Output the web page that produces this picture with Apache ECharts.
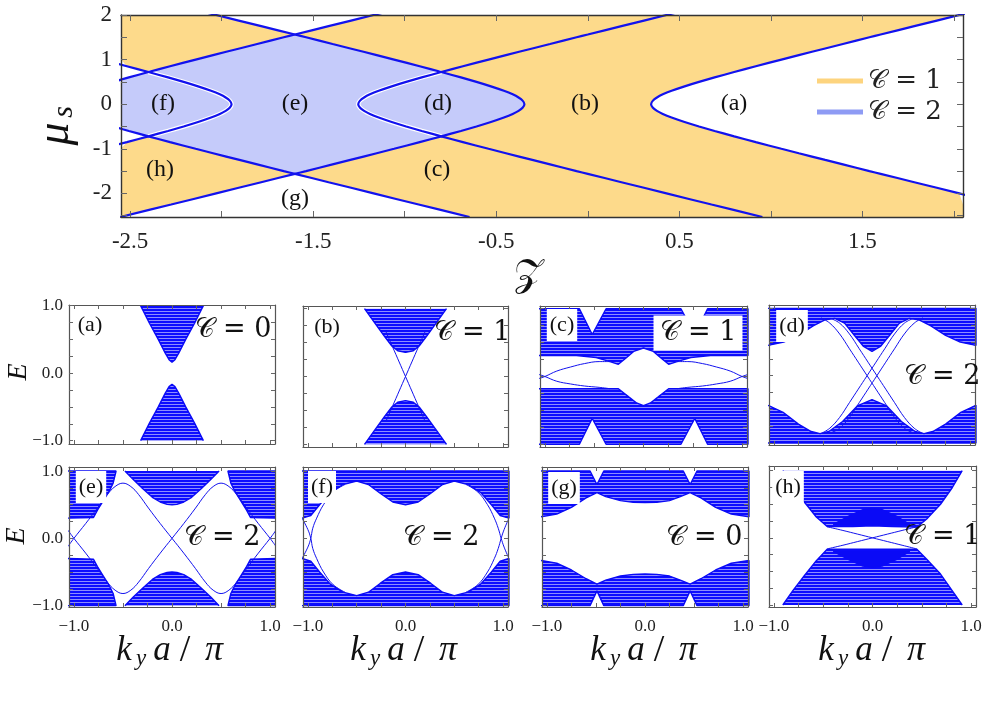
<!DOCTYPE html>
<html><head><meta charset="utf-8">
<script src="https://cdn.jsdelivr.net/npm/echarts@6/dist/echarts.min.js"></script>
<style>html,body{margin:0;padding:0;background:#fff}#c{width:996px;height:705px}</style>
</head><body><div id="c"></div>
<script>
// ===================== TOP PANEL DATA (phase diagram) =====================
const muPos = [0, 0.08, 0.15, 0.22, 0.3, 0.4, 0.5, 0.6, 0.721, 0.85, 1.0, 1.1, 1.25, 1.35, 1.5, 1.562, 1.75, 2.0, 2.25, 2.53];
const halfWidthPos = [0.346, 0.356, 0.378, 0.410, 0.458, 0.529, 0.608, 0.693, 0.800, 0.918, 1.058, 1.153, 1.297, 1.394, 1.539, 1.600, 1.784, 2.030, 2.276, 2.554];
const boundaryCenters = [0, 0, -1.6, -1.6, -3.2];
const boundarySides = [1, -1, 1, -1, 1];
const zRange = [-2.55, 2.05];
const muRange = [-2.53, 2.0];
const zTickValues = [-2.5, -2, -1.5, -1, -0.5, 0, 0.5, 1, 1.5, 2];
const zLabelValues = [-2.5, -1.5, -0.5, 0.5, 1.5];
const muTickValues = [-2.5, -2, -1.5, -1, -0.5, 0, 0.5, 1, 1.5, 2];
const muLabelValues = [-2, -1, 0, 1, 2];
const phaseNames = ['𝒞 = 1', '𝒞 = 2'];

// ===================== BOTTOM PANELS DATA (band structures) =====================
const kTickValues = [-1, -0.75, -0.5, -0.25, 0, 0.25, 0.5, 0.75, 1];
const kLabelValues = [-1, 0, 1];
const eTickValues = [-1, -0.75, -0.5, -0.25, 0, 0.25, 0.5, 0.75, 1];
const eLabelValues = [-1, 0, 1];

// (a)
const bandA_up = [[-0.32,1.0],[-0.23,0.74],[-0.14,0.5],[-0.07,0.3],[-0.03,0.2],[0,0.16],[0.03,0.2],[0.07,0.3],[0.14,0.5],[0.23,0.74],[0.32,1.0]];
const bandA_dn = [[-0.32,-1.0],[-0.23,-0.74],[-0.14,-0.5],[-0.07,-0.3],[-0.03,-0.2],[0,-0.165],[0.03,-0.2],[0.07,-0.3],[0.14,-0.5],[0.23,-0.74],[0.32,-1.0]];
// (b)
const bandB_up = [[-0.42,1.0],[-0.31,0.78],[-0.21,0.58],[-0.14,0.45],[-0.08,0.38],[0,0.355],[0.08,0.38],[0.14,0.45],[0.21,0.58],[0.31,0.78],[0.42,1.0]];
const bandB_dn = [[-0.42,-1.0],[-0.31,-0.78],[-0.21,-0.58],[-0.14,-0.45],[-0.08,-0.38],[0,-0.355],[0.08,-0.38],[0.14,-0.45],[0.21,-0.58],[0.31,-0.78],[0.42,-1.0]];
const edgeB1 = [[-0.2,0.66],[0,0],[0.2,-0.66]];
const edgeB2 = [[0.2,0.66],[0,0],[-0.2,-0.66]];
// (c)
const bandC_up = [[-1.06,0.31],[-0.68,0.31],[-0.48,0.28],[-0.34,0.22],[-0.255,0.18],[-0.18,0.27],[-0.1,0.37],[0,0.42],[0.1,0.37],[0.18,0.27],[0.255,0.18],[0.34,0.22],[0.48,0.28],[0.68,0.31],[1.06,0.31],[1.06,1.0],[0.65,1.0],[0.52,0.62],[0.38,1.0],[-0.38,1.0],[-0.52,0.62],[-0.65,1.0],[-1.06,1.0]];
const bandC_dn = [[-1.06,-0.18],[-0.5,-0.18],[-0.255,-0.18],[-0.15,-0.3],[-0.07,-0.39],[0,-0.43],[0.07,-0.39],[0.15,-0.3],[0.255,-0.18],[0.5,-0.18],[1.06,-0.18],[1.06,-1.0],[0.65,-1.0],[0.52,-0.62],[0.38,-1.0],[-0.38,-1.0],[-0.52,-0.62],[-0.65,-1.0],[-1.06,-1.0]];
const edgeC1 = [[-1.06,-0.03],[-1.0,0],[-0.88,0.08],[-0.74,0.14],[-0.6,0.19],[-0.45,0.22],[-0.34,0.22]];
const edgeC2 = [[-1.06,0.03],[-1.0,0],[-0.88,-0.07],[-0.74,-0.11],[-0.6,-0.14],[-0.45,-0.16],[-0.34,-0.18]];
const edgeC3 = [[1.06,-0.03],[1.0,0],[0.88,0.08],[0.74,0.14],[0.6,0.19],[0.45,0.22],[0.34,0.22]];
const edgeC4 = [[1.06,0.03],[1.0,0],[0.88,-0.07],[0.74,-0.11],[0.6,-0.14],[0.45,-0.16],[0.34,-0.18]];
// (d)
const bandD_up = [[-1.06,0.45],[-0.9,0.5],[-0.75,0.6],[-0.6,0.74],[-0.48,0.83],[-0.38,0.85],[-0.28,0.78],[-0.18,0.6],[-0.09,0.44],[0,0.36],[0.09,0.44],[0.18,0.6],[0.28,0.78],[0.38,0.85],[0.48,0.83],[0.6,0.74],[0.75,0.6],[0.9,0.5],[1.06,0.45],[1.06,1.0],[-1.06,1.0]];
const bandD_dn = [[-1.06,-0.44],[-0.9,-0.55],[-0.75,-0.72],[-0.62,-0.83],[-0.53,-0.86],[-0.44,-0.83],[-0.3,-0.68],[-0.15,-0.45],[0,-0.355],[0.15,-0.45],[0.3,-0.68],[0.44,-0.83],[0.53,-0.86],[0.62,-0.83],[0.75,-0.72],[0.9,-0.55],[1.06,-0.44],[1.06,-1.0],[-1.06,-1.0]];
const edgeD1 = [[-0.42,0.85],[-0.33,0.78],[-0.23,0.62],[-0.13,0.4],[-0.04,0.2],[0.05,0],[0.14,-0.2],[0.23,-0.4],[0.33,-0.62],[0.43,-0.78],[0.52,-0.86]];
const edgeD2 = [[-0.52,0.86],[-0.43,0.78],[-0.33,0.62],[-0.23,0.4],[-0.14,0.2],[-0.05,0],[0.04,-0.2],[0.13,-0.4],[0.23,-0.62],[0.33,-0.78],[0.42,-0.85]];
const edgeD3 = [[0.42,0.85],[0.33,0.78],[0.23,0.62],[0.13,0.4],[0.04,0.2],[-0.05,0],[-0.14,-0.2],[-0.23,-0.4],[-0.33,-0.62],[-0.43,-0.78],[-0.52,-0.86]];
const edgeD4 = [[0.52,0.86],[0.43,0.78],[0.33,0.62],[0.23,0.4],[0.14,0.2],[0.05,0],[-0.04,-0.2],[-0.13,-0.4],[-0.23,-0.62],[-0.33,-0.78],[-0.42,-0.85]];
// (e)
const bandE_upL = [[-1.06,0.3],[-0.8,0.31],[-0.76,0.42],[-0.7,0.56],[-0.64,0.7],[-0.6,0.82],[-0.57,1.0],[-1.06,1.0]];
const bandE_upC = [[-0.48,1.0],[-0.4,0.88],[-0.3,0.74],[-0.2,0.61],[-0.12,0.54],[-0.05,0.505],[0,0.5],[0.05,0.505],[0.12,0.54],[0.2,0.61],[0.3,0.74],[0.4,0.88],[0.48,1.0]];
const bandE_upR = [[1.06,0.3],[0.8,0.31],[0.76,0.42],[0.7,0.56],[0.64,0.7],[0.6,0.82],[0.57,1.0],[1.06,1.0]];
const bandE_dnL = [[-1.06,-0.3],[-0.8,-0.31],[-0.76,-0.42],[-0.7,-0.56],[-0.64,-0.7],[-0.6,-0.82],[-0.57,-1.0],[-1.06,-1.0]];
const bandE_dnC = [[-0.48,-1.0],[-0.4,-0.88],[-0.3,-0.74],[-0.2,-0.61],[-0.12,-0.54],[-0.05,-0.505],[0,-0.5],[0.05,-0.505],[0.12,-0.54],[0.2,-0.61],[0.3,-0.74],[0.4,-0.88],[0.48,-1.0]];
const bandE_dnR = [[1.06,-0.3],[0.8,-0.31],[0.76,-0.42],[0.7,-0.56],[0.64,-0.7],[0.6,-0.82],[0.57,-1.0],[1.06,-1.0]];
const edgeE1 = [[-1.06,-0.12],[-1,0],[-0.88,0.22],[-0.76,0.45],[-0.66,0.65],[-0.58,0.77],[-0.5,0.82],[-0.42,0.77],[-0.34,0.65],[-0.24,0.45],[-0.12,0.22],[0,0],[0.12,-0.22],[0.24,-0.45],[0.34,-0.65],[0.42,-0.77],[0.5,-0.82],[0.58,-0.77],[0.66,-0.65],[0.76,-0.45],[0.88,-0.22],[1,0],[1.06,0.12]];
const edgeE2 = [[-1.06,0.12],[-1,0],[-0.88,-0.22],[-0.76,-0.45],[-0.66,-0.65],[-0.58,-0.77],[-0.5,-0.82],[-0.42,-0.77],[-0.34,-0.65],[-0.24,-0.45],[-0.12,-0.22],[0,0],[0.12,0.22],[0.24,0.45],[0.34,0.65],[0.42,0.77],[0.5,0.82],[0.58,0.77],[0.66,0.65],[0.76,0.45],[0.88,0.22],[1,0],[1.06,-0.12]];
// (f)
const bandF_up = [[-1.06,0.3],[-0.97,0.34],[-0.88,0.5],[-0.77,0.68],[-0.64,0.8],[-0.5,0.85],[-0.38,0.8],[-0.26,0.67],[-0.13,0.54],[0,0.5],[0.13,0.54],[0.26,0.67],[0.38,0.8],[0.5,0.85],[0.64,0.8],[0.77,0.68],[0.88,0.5],[0.97,0.34],[1.06,0.3],[1.06,1.0],[-1.06,1.0]];
const bandF_dn = [[-1.06,-0.3],[-0.97,-0.34],[-0.88,-0.5],[-0.77,-0.68],[-0.64,-0.8],[-0.5,-0.85],[-0.38,-0.8],[-0.26,-0.67],[-0.13,-0.54],[0,-0.5],[0.13,-0.54],[0.26,-0.67],[0.38,-0.8],[0.5,-0.85],[0.64,-0.8],[0.77,-0.68],[0.88,-0.5],[0.97,-0.34],[1.06,-0.3],[1.06,-1.0],[-1.06,-1.0]];
const edgeF1 = [[0.62,0.8],[0.74,0.69],[0.84,0.5],[0.91,0.3],[0.95,0.15],[0.98,0],[1.01,-0.13],[1.06,-0.3]];
const edgeF2 = [[0.62,-0.8],[0.74,-0.69],[0.84,-0.5],[0.91,-0.3],[0.95,-0.15],[0.98,0],[1.01,0.13],[1.06,0.3]];
const edgeF3 = [[-0.62,0.8],[-0.74,0.69],[-0.84,0.5],[-0.91,0.3],[-0.95,0.15],[-0.97,0],[-1.0,-0.13],[-1.06,-0.3]];
const edgeF4 = [[-0.62,-0.8],[-0.74,-0.69],[-0.84,-0.5],[-0.91,-0.3],[-0.95,-0.15],[-0.97,0],[-1.0,0.13],[-1.06,0.3]];
// (g)
const bandG_up = [[-1.06,0.32],[-0.9,0.36],[-0.75,0.46],[-0.6,0.6],[-0.49,0.68],[-0.4,0.62],[-0.25,0.56],[-0.12,0.535],[0,0.53],[0.12,0.535],[0.25,0.56],[0.36,0.62],[0.46,0.68],[0.57,0.6],[0.72,0.46],[0.88,0.36],[1.06,0.32],[1.06,1.0],[0.53,1.0],[0.46,0.8],[0.39,1.0],[-0.42,1.0],[-0.49,0.8],[-0.56,1.0],[-1.06,1.0]];
const bandG_dn = [[-1.06,-0.33],[-0.9,-0.37],[-0.75,-0.47],[-0.6,-0.6],[-0.49,-0.68],[-0.4,-0.62],[-0.25,-0.56],[-0.12,-0.535],[0,-0.53],[0.12,-0.535],[0.25,-0.56],[0.36,-0.62],[0.46,-0.68],[0.57,-0.6],[0.72,-0.47],[0.88,-0.37],[1.06,-0.33],[1.06,-1.0],[0.53,-1.0],[0.46,-0.78],[0.39,-1.0],[-0.42,-1.0],[-0.49,-0.78],[-0.56,-1.0],[-1.06,-1.0]];
// (h)
const bandH_up = [[-0.91,1.0],[-0.81,0.77],[-0.69,0.53],[-0.57,0.31],[-0.46,0.17],[-0.2,0.17],[0,0.18],[0.2,0.17],[0.45,0.16],[0.55,0.28],[0.69,0.5],[0.81,0.75],[0.91,1.0]];
const bandH_dn = [[-0.91,-1.0],[-0.81,-0.79],[-0.69,-0.56],[-0.57,-0.34],[-0.46,-0.17],[0,-0.17],[0.45,-0.17],[0.55,-0.32],[0.69,-0.54],[0.81,-0.79],[0.91,-1.0]];
const domeH_up = [[-0.4,0.21],[-0.25,0.33],[-0.1,0.43],[0,0.45],[0.1,0.43],[0.25,0.33],[0.38,0.21]];
const domeH_dn = [[-0.4,-0.21],[-0.25,-0.33],[-0.1,-0.43],[0,-0.45],[0.1,-0.43],[0.25,-0.33],[0.38,-0.21]];
const edgeH1 = [[-0.46,0.165],[-0.3,0.11],[-0.15,0.055],[0,0],[0.15,-0.055],[0.3,-0.11],[0.45,-0.165]];
const edgeH2 = [[-0.46,-0.165],[-0.3,-0.11],[-0.15,-0.055],[0,0],[0.15,0.055],[0.3,0.11],[0.45,0.165]];

const panelTags = ['(a)','(b)','(c)','(d)','(e)','(f)','(g)','(h)'];
const panelChern = ['𝒞 = 0','𝒞 = 1','𝒞 = 1','𝒞 = 2','𝒞 = 2','𝒞 = 2','𝒞 = 0','𝒞 = 1'];

// ===================== BUILD =====================
const SERIF = 'Liberation Serif';
const MATH = "'DejaVu Serif','DejaVu Sans','Noto Sans',serif";
const ORANGE = '#FDDA8B', BLUEFILL = '#C5CBFA', LINE = '#1212EE';

function stripePattern() {
  const c = document.createElement('canvas');
  c.width = 8; c.height = 3;
  const x = c.getContext('2d');
  x.fillStyle = '#0c0cff'; x.fillRect(0, 0, 8, 2);
  x.fillStyle = '#8c8cff'; x.fillRect(0, 2, 8, 1);
  return {image: c, repeat: 'repeat'};
}
const BAND = stripePattern();
const DENSE = '#0a0af6';

const muAll = muPos.slice(1).map(m => -m).reverse().concat(muPos);
const hAll = halfWidthPos.slice(1).reverse().concat(halfWidthPos);
const branch = (c, s, f) => muAll.map((m, j) => [c + s * hAll[j], m]).filter(p => f(p[1]));
const muCross = muPos[halfWidthPos.indexOf(1.6)];
const muInner = muPos[halfWidthPos.indexOf(0.8)];
const inside = m => Math.abs(m) <= muCross + 1e-6;
const curves = boundaryCenters.map((c, i) => branch(c, boundarySides[i], () => true));
const innerHalos = [2, 3].map(i => branch(boundaryCenters[i], boundarySides[i], m => Math.abs(m) <= muInner + 1e-6));
const orangeBg = [[zRange[0], muRange[0]], [zRange[1], muRange[0]], [zRange[1], muRange[1]], [zRange[0], muRange[1]]];
const blueRegion = branch(boundaryCenters[1], -1, inside).concat(branch(boundaryCenters[4], 1, inside).reverse());
const whiteA = branch(0, 1, () => true).concat([[zRange[1] + 1, muAll[muAll.length - 1]], [zRange[1] + 1, muAll[0]]]);
const whiteTop = branch(0, -1, m => m >= muCross - 1e-6).concat(branch(boundaryCenters[4], 1, m => m >= muCross - 1e-6).reverse());
const whiteBot = branch(0, -1, m => m <= -muCross + 1e-6).concat(branch(boundaryCenters[4], 1, m => m <= -muCross + 1e-6).reverse());
const whiteLeftTop = branch(boundaryCenters[4], 1, m => m >= 0.5 && m <= muInner + 1e-4)
  .concat(branch(boundaryCenters[3], -1, m => m >= muInner - 1e-4 && m <= 1.0))
  .concat([[zRange[0] - 1, 1.0], [zRange[0] - 1, 0.5]]);
const whiteLeftBot = whiteLeftTop.map(([z, m]) => [z, -m]);

const grids = [
  {left:121, top:15, width:842, height:202},
  {left:69, top:305, width:206, height:139},
  {left:303, top:306, width:205, height:141},
  {left:540, top:306, width:207, height:141},
  {left:769, top:305, width:206, height:140},
  {left:69, top:467, width:206, height:140},
  {left:303, top:467, width:205, height:140},
  {left:542, top:467, width:206, height:140},
  {left:769, top:466, width:207, height:141}
];
const yRanges = [muRange, [-1.05,1.01], [-1.04,1.04], [-1.04,1.04], [-1.03,1.05], [-1.02,1.06], [-1.02,1.06], [-1.02,1.06], [-1.03,1.07]];

const fmt1 = v => (v < 0 ? '\u2212' : '') + Math.abs(v).toFixed(1);
const richLab = (fs) => ({s: {fontFamily: SERIF, fontSize: fs, color: '#222'}});
const xAxes = [], yAxes = [];
grids.forEach((g, i) => {
  const top = i === 0;
  const tickX = top ? zTickValues : kTickValues;
  const tickY = top ? muTickValues : eTickValues;
  const lineStyle = {color: top ? '#333' : '#555', width: top ? 1.4 : 1.2};
  const tick = (vals, len) => ({show:true, inside:true, length:len, customValues:vals, lineStyle:{color:'#666', width:1}});
  const showXLab = top || i >= 5;
  const showYLab = top || i === 1 || i === 5;
  const fs = top ? 23 : 17;
  const f = top ? (v => '{s|' + String(v) + '}') : (v => '{s|' + fmt1(v) + '}');
  xAxes.push({gridIndex:i, type:'value', position:'bottom', min: top ? zRange[0] : -1.05, max: top ? zRange[1] : 1.05, z:10,
    axisLine:{show:true, onZero:false, lineStyle}, axisTick:tick(tickX, top ? 6 : 4), splitLine:{show:false},
    axisLabel:{show:showXLab, customValues: top ? zLabelValues : kLabelValues, formatter: f,
      margin: top ? 13 : 11, fontSize: fs, fontFamily:SERIF, color:'#222', rich: richLab(fs)}});
  xAxes.push({gridIndex:i, type:'value', position:'top', min: top ? zRange[0] : -1.05, max: top ? zRange[1] : 1.05, z:10,
    axisLine:{show:true, onZero:false, lineStyle}, axisTick:tick(tickX, top ? 6 : 4), splitLine:{show:false}, axisLabel:{show:false}});
  yAxes.push({gridIndex:i, type:'value', position:'left', min: yRanges[i][0], max: yRanges[i][1], z:10,
    axisLine:{show:true, onZero:false, lineStyle}, axisTick:tick(tickY, top ? 6 : 4), splitLine:{show:false},
    axisLabel:{show:showYLab, customValues: top ? muLabelValues : eLabelValues, formatter: f,
      margin: top ? 9 : 6, fontSize: fs, fontFamily:SERIF, color:'#222', rich: richLab(fs)}});
  yAxes.push({gridIndex:i, type:'value', position:'right', min: yRanges[i][0], max: yRanges[i][1], z:10,
    axisLine:{show:true, onZero:false, lineStyle}, axisTick:tick(tickY, top ? 6 : 4), splitLine:{show:false}, axisLabel:{show:false}});
});

const series = [];
function addPoly(poly, g, fill, name) {
  series.push({type:'custom', name: name, xAxisIndex:2*g, yAxisIndex:2*g, data: poly, silent:true,
    itemStyle:{color: (typeof fill === 'string' ? fill : '#0c0cff')},
    renderItem(params, api) {
      if (params.dataIndex !== 0) return null;
      const cs = params.coordSys;
      const pts = echarts.graphic.clipPointsByRect(poly.map(p => api.coord(p)), {x:cs.x, y:cs.y, width:cs.width, height:cs.height});
      return {type:'polygon', shape:{points:pts}, style:{fill:fill}};
    }});
}
function addLine(pts, g, color, width, smooth) {
  series.push({type:'line', xAxisIndex:2*g, yAxisIndex:2*g, data:pts, showSymbol:false, symbol:'none', smooth:smooth,
    lineStyle:{color, width}, silent:true, clip:true});
}

// top panel
addPoly(orangeBg, 0, ORANGE, phaseNames[0]);
[whiteA, whiteTop, whiteBot, whiteLeftTop, whiteLeftBot].forEach(p => addPoly(p, 0, '#ffffff'));
addPoly(blueRegion, 0, BLUEFILL, phaseNames[1]);
innerHalos.forEach(c => addLine(c, 0, '#ffffff', 4.5, 0.3));
curves.forEach(c => addLine(c, 0, LINE, 2.2, 0.3));

// bottom panels
const panelBands = [
  [bandA_up, bandA_dn], [bandB_up, bandB_dn], [bandC_up, bandC_dn], [bandD_up, bandD_dn],
  [bandE_upL, bandE_upC, bandE_upR, bandE_dnL, bandE_dnC, bandE_dnR], [bandF_up, bandF_dn],
  [bandG_up, bandG_dn], [bandH_up, bandH_dn]
];
const panelEdges = [[], [edgeB1, edgeB2], [edgeC1, edgeC2, edgeC3, edgeC4], [edgeD1, edgeD2, edgeD3, edgeD4],
  [edgeE1, edgeE2], [edgeF1, edgeF2, edgeF3, edgeF4], [], [edgeH1, edgeH2]];
panelBands.forEach((bands, p) => bands.forEach(b => {
  addPoly(b, p + 1, BAND);
  addLine(b, p + 1, DENSE, 1.4, false);
}));
addPoly(domeH_up.concat([[0.38,0.19],[-0.4,0.19]]), 8, DENSE);
addPoly(domeH_dn.concat([[0.38,-0.19],[-0.4,-0.19]]), 8, DENSE);
panelEdges.forEach((edges, p) => edges.forEach(e => addLine(e, p + 1, LINE, 1, 0.4)));

// ===================== TEXT / GRAPHICS =====================
function T(x, y, text, font, extra) {
  return Object.assign({type:'text', x, y, z:100, silent:true,
    style: Object.assign({text, font, fill:'#111', align:'center', verticalAlign:'middle', textAlign:'center', textVerticalAlign:'middle'}, (extra||{}))});
}
const SF = "'Liberation Serif',serif";
const gfx = [];
[['(f)',163,104],['(e)',295,104],['(d)',438,104],['(b)',585,104],['(a)',734,104],['(h)',160,170],['(c)',437,170],['(g)',295,199]]
  .forEach(([t,x,y]) => gfx.push(T(x, y, t, `24px ${SF}`)));
gfx.push({type:'group', x:56, y:126, rotation:Math.PI/2, z:100, children:[
  T(-8, 0, 'μ', `italic 46px ${SF}`), T(14, 8, 's', `italic 30px ${SF}`)]});
gfx.push(T(528, 276, '𝒵', `38px ${MATH}`));
gfx.push({type:'group', x:19, y:372, rotation:Math.PI/2, z:100, children:[T(0,0,'E',`italic 28px ${SF}`)]});
gfx.push({type:'group', x:17, y:536, rotation:Math.PI/2, z:100, children:[T(0,0,'E',`italic 28px ${SF}`)]});
[176, 410, 650, 878].forEach(cx => {
  const cy = 651;
  gfx.push(T(cx-52, cy, 'k', `italic 35px ${SF}`));
  gfx.push(T(cx-35, cy+8, 'y', `italic 23px ${SF}`));
  gfx.push(T(cx-14, cy, 'a', `italic 35px ${SF}`));
  gfx.push(T(cx+9, cy, '/', `38px ${SF}`));
  gfx.push(T(cx+38, cy, 'π', `italic 36px ${SF}`));
});
const tagPos = [[90,325,false],[327,327,false],[562,325,true],[792,326,true],[91,487,true],[322,487,true],[564,488,true],[788,487,true]];
tagPos.forEach(([x,y,box], i) => gfx.push(T(x, y, panelTags[i], `22px ${SF}`, box ? {backgroundColor:'#fff', padding:[5,3,5,3]} : {})));
const chernPos = [[233,330,false],[472,333,false],[698,333,true],[942,377,false],[222,538,false],[441,538,false],[704,538,false],[942,537,false]];
chernPos.forEach(([x,y,box], i) => gfx.push(T(x, y, panelChern[i], `27px ${MATH}`, box ? {backgroundColor:'#fff', padding:[4,6,4,6]} : {})));

const chart = echarts.init(document.getElementById('c'), null, {width:996, height:705});
chart.setOption({
  animation:false,
  backgroundColor:'#fff',
  textStyle:{fontFamily: SERIF},
  grid: grids.map(g => Object.assign({containLabel:false}, g)),
  xAxis: xAxes, yAxis: yAxes,
  legend: {data:[{name:phaseNames[0], itemStyle:{color:'#FDD47E'}}, {name:phaseNames[1], itemStyle:{color:'#8E9BF4'}}],
    orient:'vertical', left:812, top:63, icon:'rect', itemWidth:46, itemHeight:5, itemGap:5, selectedMode:false,
    textStyle:{fontSize:26, lineHeight:26, fontFamily:MATH, color:'#222'}},
  series: series,
  graphic: gfx
});
</script></body></html>
